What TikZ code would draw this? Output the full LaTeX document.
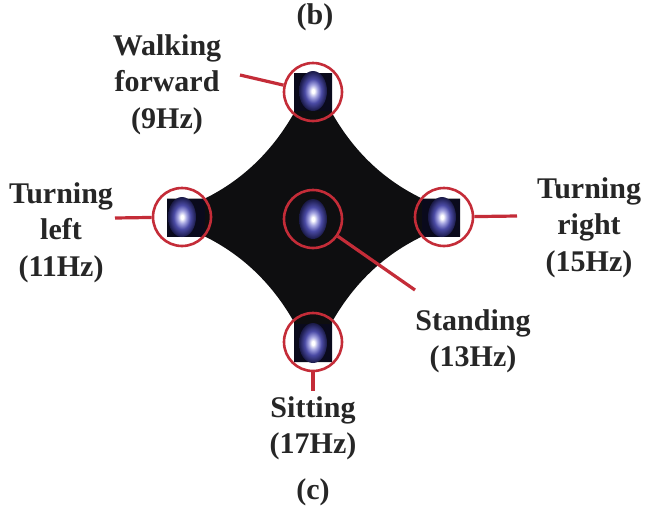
\documentclass[tikz,border=0pt]{standalone}
\usepackage{fontspec}
\setmainfont{Liberation Serif}
\definecolor{bodyblack}{RGB}{14,14,16}
\definecolor{tipfill}{RGB}{10,10,28}
\definecolor{glowcore}{RGB}{255,255,255}
\definecolor{glowlight}{RGB}{165,165,225}
\definecolor{glowmid}{RGB}{75,75,165}
\definecolor{glowdark}{RGB}{30,30,80}
\definecolor{ringred}{RGB}{196,44,56}
\pgfdeclareradialshading{glow}{\pgfpoint{0bp}{0bp}}{%
  color(0bp)=(glowcore); color(2.5bp)=(glowcore); color(8bp)=(glowlight);
  color(15bp)=(glowmid); color(24bp)=(glowdark); color(31bp)=(tipfill);
  color(50bp)=(tipfill)}
\tikzset{
  lbl/.style={font=\bfseries\fontsize{30}{36.5}\selectfont, align=center, inner sep=0pt, text=black!85},
  tipsq/.style={fill=tipfill, draw=none},
  blob/.style={shading=glow, draw=none},
  ring/.style={circle, draw=ringred, line width=2.6pt, minimum size=58pt, inner sep=0pt},
  lead/.style={draw=ringred, line width=3.2pt}
}
\begin{document}
\begin{tikzpicture}[x=1pt,y=-1pt]
  \useasboundingbox[fill=white] (0,0) rectangle (646,509);

  % four-pointed star body
  \fill[bodyblack]
    (294,73) -- (332,73) -- (332,113)
    .. controls (354,151.7) and (383.7,180) .. (422,198.5)
    -- (460,198.5) -- (460,236.5) -- (422,236.5)
    .. controls (383.7,255) and (354,283.3) .. (332,322)
    -- (332,362) -- (294,362) -- (294,322)
    .. controls (272,283.3) and (242.3,255) .. (205,236.5)
    -- (167,236.5) -- (167,198.5) -- (205,198.5)
    .. controls (242.3,180) and (272,151.7) .. (294,113) -- cycle;

  % tip squares
  \fill[tipsq] (294,73) rectangle (332,111);
  \fill[tipsq] (167,198.5) rectangle (205,236.5);
  \fill[tipsq] (422,198.5) rectangle (460,236.5);
  \fill[tipsq] (294,324) rectangle (332,362);

  % glowing spots
  \shade[blob] (313,91) ellipse [x radius=14, y radius=20];
  \shade[blob] (182,217) ellipse [x radius=14, y radius=20];
  \shade[blob] (442,217) ellipse [x radius=14, y radius=20];
  \shade[blob] (313,219) ellipse [x radius=14, y radius=20];
  \shade[blob] (313,343) ellipse [x radius=14, y radius=20];

  % rings
  \node[ring] (ctop) at (313,92) {};
  \node[ring] (cleft) at (182,217) {};
  \node[ring] (cright) at (444,217) {};
  \node[ring] (ccen) at (313,219) {};
  \node[ring] (cbot) at (313,342) {};

  % lead line ends
  \coordinate (ewf) at (240,75);
  \coordinate (etl) at (115,218);
  \coordinate (etr) at (517,216);
  \coordinate (est) at (415,290);
  \coordinate (esi) at (313,391);

  \draw[lead] (ewf) -- (ctop);
  \draw[lead] (etl) -- (cleft);
  \draw[lead] (cright) -- (etr);
  \draw[lead] (ccen) -- (est);
  \draw[lead] (cbot) -- (esi);

  % labels (anchored at the baseline of the last line)
  \node[lbl, anchor=base] (tb) at (315,24) {(b)};
  \node[lbl, anchor=base] (twf) at (167,128) {Walking\\forward\\(9Hz)};
  \node[lbl, anchor=base] (ttl) at (61,276) {Turning\\left\\(11Hz)};
  \node[lbl, anchor=base] (ttr) at (589,271) {Turning\\right\\(15Hz)};
  \node[lbl, anchor=base] (tst) at (473,366.5) {Standing\\(13Hz)};
  \node[lbl, anchor=base] (tsi) at (313,453.5) {Sitting\\(17Hz)};
  \node[lbl, anchor=base] (tc) at (313,499) {(c)};
\end{tikzpicture}
\end{document}
